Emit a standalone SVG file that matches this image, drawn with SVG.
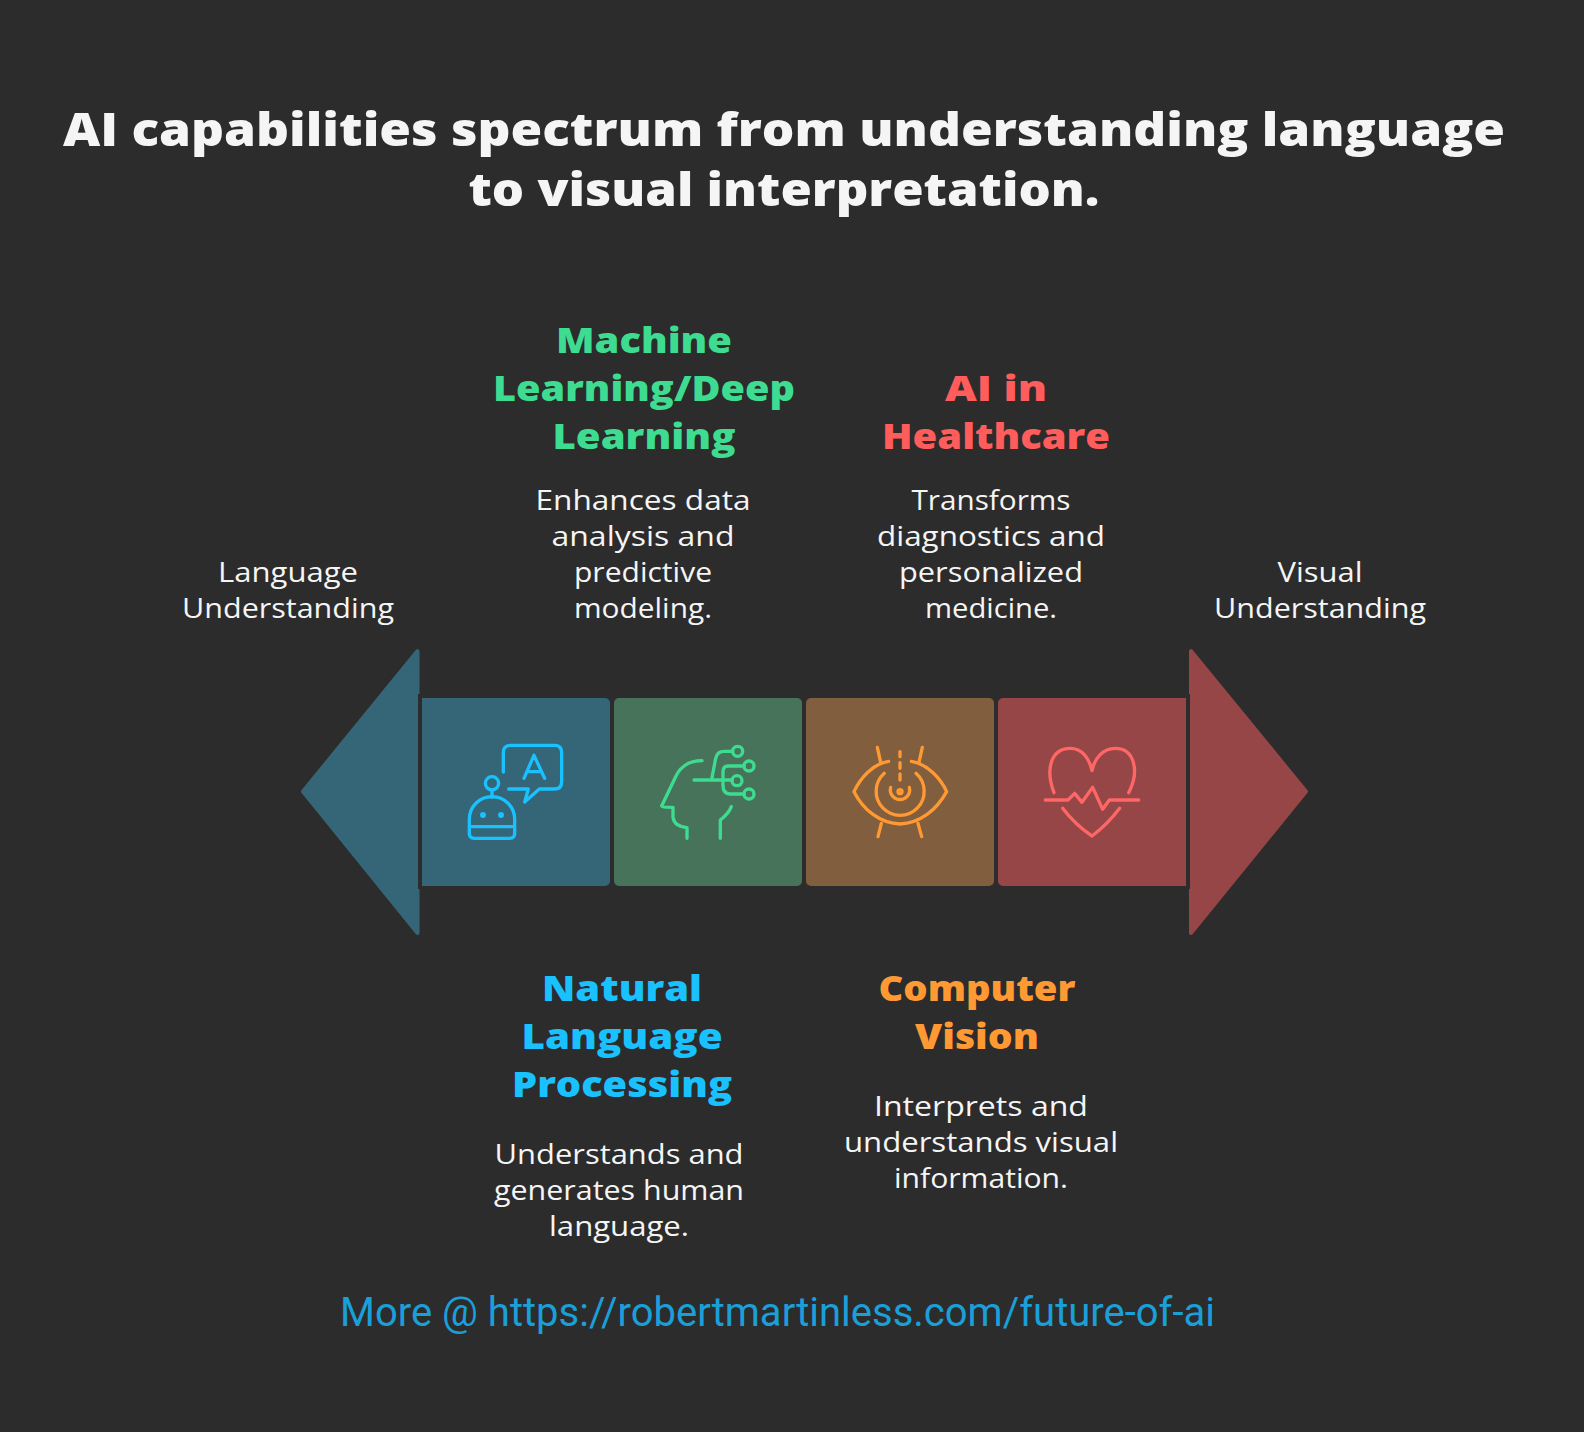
<svg xmlns="http://www.w3.org/2000/svg" width="1584" height="1432" viewBox="0 0 1584 1432">
<style>
text{font-family:"Open Sans","Noto Sans",sans-serif;text-anchor:middle}
.t{font-size:46px;font-weight:800;fill:#f5f5f5}
.h{font-size:36px;font-weight:800}
.d{font-size:28px;font-weight:400;fill:#f5f5f5}
.f{font-family:Roboto,sans-serif;font-size:40px;fill:#1a9fd8}
.i{fill:none;stroke-width:10;stroke-linecap:round;stroke-linejoin:round}
.b{fill:#356678}.g{fill:#46735a}.o{fill:#805e3e}.r{fill:#964646}
</style>
<rect width="1584" height="1432" fill="#2c2c2c"/>
<g id="title">
<text class="t" x="784" y="146" textLength="1442" lengthAdjust="spacingAndGlyphs">AI capabilities spectrum from understanding language</text>
<text class="t" x="784" y="206" textLength="631" lengthAdjust="spacingAndGlyphs">to visual interpretation.</text>
</g>
<g id="arrow-left">
<path class="b" d="M303,791.500 L417.500,651 V933 Z" stroke="#356678" stroke-width="4" stroke-linejoin="round"/>
<text class="d" x="288" y="582" textLength="140" lengthAdjust="spacingAndGlyphs">Language</text>
<text class="d" x="288" y="618" textLength="212" lengthAdjust="spacingAndGlyphs">Understanding</text>
</g>
<g id="arrow-right">
<path class="r" d="M1306,791.500 L1191,651 V933 Z" stroke="#964646" stroke-width="4" stroke-linejoin="round"/>
<text class="d" x="1320" y="582" textLength="85" lengthAdjust="spacingAndGlyphs">Visual</text>
<text class="d" x="1320" y="618" textLength="212" lengthAdjust="spacingAndGlyphs">Understanding</text>
</g>
<g id="node-nlp">
<path class="b" d="M422,698 H605 a5,5 0 0 1 5,5 V881 a5,5 0 0 1 -5,5 H422 Z"/>
<g class="i" stroke="#1ac1ff" transform="translate(450 730) scale(.3333)">
<path d="M160,126 V68 Q160,46 182,46 H314 Q335,46 335,68 V155 Q335,177 313,177 H268 L224,216 L235,177 H176"/>
<path d="M222,145 L252,76 L284,145 M232,125 H274"/>
<circle cx="126" cy="160" r="20"/>
<path d="M126,180 V202"/>
<path d="M58,290 V268 A68,68 0 0 1 194,268 V310 Q194,325 180,325 H72 Q58,325 58,310 Z M58,290 H194"/>
<circle cx="99" cy="255" r="4" fill="#1ac1ff"/><circle cx="153" cy="255" r="4" fill="#1ac1ff"/>
</g>
<text class="h" x="622" y="1001" fill="#1ac1ff" textLength="160" lengthAdjust="spacingAndGlyphs">Natural</text>
<text class="h" x="622" y="1049" fill="#1ac1ff" textLength="201" lengthAdjust="spacingAndGlyphs">Language</text>
<text class="h" x="622" y="1097" fill="#1ac1ff" textLength="220" lengthAdjust="spacingAndGlyphs">Processing</text>
<text class="d" x="619" y="1164" textLength="249" lengthAdjust="spacingAndGlyphs">Understands and</text>
<text class="d" x="619" y="1200" textLength="250" lengthAdjust="spacingAndGlyphs">generates human</text>
<text class="d" x="619" y="1236" textLength="140" lengthAdjust="spacingAndGlyphs">language.</text>
</g>
<g id="node-ml">
<rect class="g" x="614" y="698" width="188" height="188" rx="5"/>
<g class="i" stroke="#3ddc91" transform="translate(645 730) scale(.3333)">
<path d="M171,92 Q115,92 92,140 L50,228 Q52,232 80,232 L84,232 V262 Q88,290 126,293 V325"/>
<path d="M226,325 V270 Q252,250 259,230"/>
<path d="M147,150 H262 M200,148 L212,85 Q216,64 238,64 H263 M297,108 H250 Q234,108 234,125 V165 Q234,192 255,192 H297"/>
<circle cx="278" cy="64" r="15"/><circle cx="312" cy="108" r="15"/><circle cx="276" cy="152" r="15"/><circle cx="312" cy="192" r="15"/>
</g>
<text class="h" x="644" y="353" fill="#3ddc91" textLength="176" lengthAdjust="spacingAndGlyphs">Machine</text>
<text class="h" x="644" y="401" fill="#3ddc91" textLength="302" lengthAdjust="spacingAndGlyphs">Learning/Deep</text>
<text class="h" x="644" y="449" fill="#3ddc91" textLength="183" lengthAdjust="spacingAndGlyphs">Learning</text>
<text class="d" x="643" y="510" textLength="215" lengthAdjust="spacingAndGlyphs">Enhances data</text>
<text class="d" x="643" y="546" textLength="183" lengthAdjust="spacingAndGlyphs">analysis and</text>
<text class="d" x="643" y="582" textLength="138" lengthAdjust="spacingAndGlyphs">predictive</text>
<text class="d" x="643" y="618" textLength="138" lengthAdjust="spacingAndGlyphs">modeling.</text>
</g>
<g id="node-cv">
<rect class="o" x="806" y="698" width="188" height="188" rx="5"/>
<g class="i" stroke="#ff9933" transform="translate(840 730) scale(.3333)">
<path d="M146,94 C100,100 60,145 42,185 C70,240 120,280 180,282 C240,280 290,240 320,185 C302,145 262,102 214,94"/>
<path d="M112,52 L122,97 M247,52 L237,97 M124,280 L114,320 M234,280 L245,320"/>
<path d="M180,65 V80 M180,98 V115 M180,132 V150"/>
<path d="M133,130 A72,72 0 1 0 228,130"/>
<path d="M152,172 A29,29 0 1 0 208,172"/>
<circle cx="180" cy="185" r="6"/>
</g>
<text class="h" x="977" y="1001" fill="#ff9933" textLength="197" lengthAdjust="spacingAndGlyphs">Computer</text>
<text class="h" x="977" y="1049" fill="#ff9933" textLength="124" lengthAdjust="spacingAndGlyphs">Vision</text>
<text class="d" x="981" y="1116" textLength="214" lengthAdjust="spacingAndGlyphs">Interprets and</text>
<text class="d" x="981" y="1152" textLength="274" lengthAdjust="spacingAndGlyphs">understands visual</text>
<text class="d" x="981" y="1188" textLength="174" lengthAdjust="spacingAndGlyphs">information.</text>
</g>
<g id="node-health">
<path class="r" d="M1186,698 H1003 a5,5 0 0 0 -5,5 V881 a5,5 0 0 0 5,5 H1186 Z"/>
<g class="i" stroke="#ff6666" transform="translate(1032 730) scale(.3333)">
<path d="M66,188 C40,120 55,55 115,55 C150,55 172,85 180,122 C188,85 212,55 250,55 C305,55 325,120 290,188"/>
<path d="M40,210 H108 L128,190 L150,217 L182,172 L212,238 L232,210 H320"/>
<path d="M92,235 Q130,285 180,318 Q225,285 263,235"/>
</g>
<text class="h" x="996" y="401" fill="#ff5c5c" textLength="102" lengthAdjust="spacingAndGlyphs">AI in</text>
<text class="h" x="996" y="449" fill="#ff5c5c" textLength="228" lengthAdjust="spacingAndGlyphs">Healthcare</text>
<text class="d" x="991" y="510" textLength="159" lengthAdjust="spacingAndGlyphs">Transforms</text>
<text class="d" x="991" y="546" textLength="228" lengthAdjust="spacingAndGlyphs">diagnostics and</text>
<text class="d" x="991" y="582" textLength="184" lengthAdjust="spacingAndGlyphs">personalized</text>
<text class="d" x="991" y="618" textLength="132" lengthAdjust="spacingAndGlyphs">medicine.</text>
</g>
<g id="connectors">
<rect x="418" y="694" width="4" height="195" fill="#2c2c2c"/>
<rect x="1186" y="694" width="4" height="195" fill="#2c2c2c"/>
</g>
<text class="f" x="777.500" y="1326" textLength="875">More @ https://robertmartinless.com/future-of-ai</text>
</svg>
